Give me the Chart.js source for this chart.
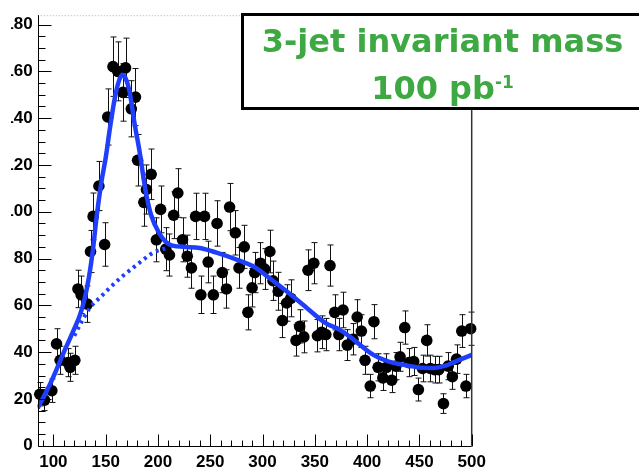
<!DOCTYPE html>
<html>
<head>
<meta charset="utf-8">
<script src="https://cdn.jsdelivr.net/npm/chart.js@4/dist/chart.umd.min.js"></script>
<style>
  html, body { margin: 0; padding: 0; background: #fff; overflow: hidden; }
  #massChart { position: absolute; left: 11px; top: 0; }
</style>
</head>
<body>
<canvas id="massChart" width="628" height="467"></canvas>
<script>
// 3-jet invariant mass, 100 pb-1
const massValues = [87, 91.5, 98.5, 103, 106.5, 114, 116, 120.5, 123.5, 126.5, 132.5, 135.5, 138, 143.5, 149,
  152, 157, 161.5, 166.5, 169, 174.5, 178.5, 180.5, 186.5, 189, 193.5, 198.5, 202.5, 207.5, 211,
  215, 219, 223.5, 228, 232, 236, 241, 244.5, 248, 253, 256.5, 261.5, 265.5, 268.5, 274,
  277.5, 282.5, 286, 290, 292.5, 298, 302, 307, 310, 315, 319, 323, 327, 332, 335.5,
  339.5, 343.5, 349, 352.5, 356.5, 360.5, 364.5, 369, 373, 377, 381, 386.5, 390.5, 394.5, 398,
  403, 406.5, 410.5, 415, 418.5, 423.5, 427.5, 431.5, 436, 440, 444.5, 449, 453, 457, 460.5,
  464.5, 468.5, 473, 477.5, 481.5, 485.5, 490.5, 494.5, 499];
const eventCounts = [22, 19.5, 23.5, 43.5, 36.5, 35.5, 33.5, 36.5, 67, 64.5, 60.5, 83, 98, 111, 86,
  140.5, 162, 160, 151, 161.5, 144, 149, 122, 104, 109.5, 116, 88, 101, 84, 81.5,
  98.5, 108, 88, 81, 76, 98, 64.5, 98, 78.5, 64.5, 95, 74, 67, 102, 91,
  76, 85, 57, 67.5, 74, 78, 75.5, 83, 70.5, 66, 53.5, 61, 63, 45, 51,
  46.5, 75, 78, 47, 48.5, 47.5, 77, 57, 47.5, 58, 43, 45.5, 55, 49, 36.5,
  25.5, 53, 33.5, 29, 33.5, 28, 34, 38, 50.5, 35.5, 36, 24, 33, 45, 33,
  32.5, 32.5, 18, 34, 29.5, 37, 49, 25.5, 50];
const countErrors = [5, 4.5, 5, 6.5, 6, 6, 6, 6, 8, 8, 7.8, 9, 10, 10.5, 9.3,
  12, 12.7, 12.6, 12.3, 12.7, 12, 12.2, 11, 10.2, 10.5, 10.8, 9.4, 10, 9.2, 9,
  10, 10.4, 9.4, 9, 8.7, 9.9, 8, 9.9, 8.9, 8, 9.7, 8.6, 8.2, 10.1, 9.5,
  8.7, 9.2, 7.5, 8.2, 8.6, 8.8, 8.7, 9.1, 8.4, 8.1, 7.3, 7.8, 7.9, 6.7, 7.1,
  6.8, 8.7, 8.8, 6.9, 7, 6.9, 8.8, 7.5, 6.9, 7.6, 6.6, 6.7, 7.4, 7, 6,
  5, 7.3, 5.8, 5.4, 5.8, 5.3, 5.8, 6.2, 7.1, 6, 6, 4.9, 5.7, 6.7, 5.7,
  5.7, 5.7, 4.2, 5.8, 5.4, 6.1, 7, 5, 7.1];

// fit: signal + background
const fitMass = [85, 97, 112, 120, 125.5, 130, 134, 138, 141.5, 146, 150, 154, 158.5, 162, 166, 170, 173,
  177.5, 182.5, 186, 189, 193.5, 201, 211, 224, 240, 256, 278.5, 291, 310, 323, 342, 360,
  374, 384, 406, 420, 438, 450, 463, 475, 482, 490, 500];
const fitTotal = [16, 26.5, 42, 50, 56, 63, 72, 84.5, 98.5, 113, 123, 135.5, 148, 155, 158.5, 156, 151,
  138, 125.5, 115, 107, 98.5, 91, 86, 85, 84.5, 82.5, 79, 76.7, 70.5, 66, 59, 52.5,
  49.5, 46.4, 38.8, 36, 34.3, 33.4, 33.2, 34.2, 35.5, 37, 38.8];
// background only
const bkgMass = [120, 127, 135, 145, 154, 165, 176, 186, 195, 208];
const bkgValues = [47, 53, 59, 63.5, 67.5, 72, 76, 79.5, 82.4, 84.5];

const xTicks = [100, 150, 200, 250, 300, 350, 400, 450, 500];
const yTicks = [0, 20, 40, 60, 80, 100, 120, 140, 160, 180];

const blau = '#1f3ffc';
const groen = '#3ea843';

function punten(xs, ys) {
  return xs.map((v, i) => ({x: v, y: ys[i]}));
}

// error bars below the markers
const foutBalken = {
  id: 'foutBalken',
  beforeDatasetsDraw(chart) {
    const {ctx, scales: {x, y}} = chart;
    ctx.save();
    ctx.strokeStyle = '#111';
    ctx.lineWidth = 1;
    massValues.forEach((m, i) => {
      const px = Math.round(x.getPixelForValue(m)) + 0.5;
      const lo = y.getPixelForValue(eventCounts[i] - countErrors[i]);
      const hi = y.getPixelForValue(eventCounts[i] + countErrors[i]);
      ctx.beginPath();
      ctx.moveTo(px, lo); ctx.lineTo(px, hi);
      ctx.moveTo(px - 3, lo); ctx.lineTo(px + 3, lo);
      ctx.moveTo(px - 3, hi); ctx.lineTo(px + 3, hi);
      ctx.stroke();
    });
    ctx.restore();
  }
};

// frame with inward ticks
const kader = {
  id: 'kader',
  afterDatasetsDraw(chart) {
    const {ctx, chartArea: a, scales: {x, y}} = chart;
    ctx.save();
    // top edge dotted
    ctx.strokeStyle = '#b0b0b0';
    ctx.setLineDash([1, 2]);
    ctx.beginPath();
    ctx.moveTo(a.left, a.top + 0.5); ctx.lineTo(a.right, a.top + 0.5);
    ctx.stroke();
    ctx.setLineDash([]);
    // right edge
    ctx.strokeStyle = '#333';
    ctx.lineWidth = 1.5;
    ctx.beginPath();
    ctx.moveTo(a.right, a.top); ctx.lineTo(a.right, a.bottom);
    ctx.stroke();
    // axes
    ctx.strokeStyle = '#000';
    ctx.lineWidth = 1;
    const x0 = Math.round(a.left) + 0.5, y0 = Math.round(a.bottom) + 0.5;
    ctx.beginPath();
    ctx.moveTo(x0, a.top); ctx.lineTo(x0, y0); ctx.lineTo(a.right, y0);
    ctx.stroke();
    ctx.beginPath();
    for (let v = 0; v <= y.max; v += 5) {
      const py = Math.round(y.getPixelForValue(v)) + 0.5;
      const len = v % 20 === 0 ? 13 : 7;
      ctx.moveTo(x0, py); ctx.lineTo(x0 + len, py);
    }
    for (let v = 90; v <= x.max; v += 10) {
      const px = Math.round(x.getPixelForValue(v)) + 0.5;
      const len = v % 50 === 0 ? 12 : 6;
      ctx.moveTo(px, y0); ctx.lineTo(px, y0 - len);
    }
    ctx.stroke();
    ctx.restore();
  }
};

// label box top right
const titelBlok = {
  id: 'titelBlok',
  afterDraw(chart) {
    const ctx = chart.ctx;
    const midden = 431.5;
    ctx.save();
    ctx.fillStyle = '#fff';
    ctx.fillRect(230, 13, 420, 97);
    ctx.strokeStyle = '#000';
    ctx.lineWidth = 3;
    ctx.strokeRect(231.5, 14.5, 420, 94);
    ctx.fillStyle = groen;
    ctx.textBaseline = 'alphabetic';
    ctx.textAlign = 'center';
    ctx.font = 'bold 32px "DejaVu Sans"';
    ctx.fillText('3-jet invariant mass', midden, 51.5);
    const deel1 = '100 pb', deel2 = '-1';
    const w1 = ctx.measureText(deel1).width;
    ctx.font = 'bold 17px "DejaVu Sans"';
    const w2 = ctx.measureText(deel2).width;
    const start = midden - (w1 + w2) / 2;
    ctx.textAlign = 'left';
    ctx.font = 'bold 32px "DejaVu Sans"';
    ctx.fillText(deel1, start, 98.5);
    ctx.font = 'bold 17px "DejaVu Sans"';
    ctx.fillText(deel2, start + w1, 87.5);
    ctx.restore();
  }
};

const asFont = {family: '"Liberation Sans", Arial, sans-serif', size: 17, weight: 'bold'};

new Chart(document.getElementById('massChart'), {
  type: 'line',
  data: {
    datasets: [{
      label: 'data',
      data: punten(massValues, eventCounts),
      showLine: false,
      pointRadius: 5.8,
      pointHoverRadius: 5.8,
      pointBackgroundColor: '#000',
      pointBorderWidth: 0,
      clip: false,
      order: 2
    }, {
      label: 'fit',
      data: punten(fitMass, fitTotal),
      borderColor: blau,
      borderWidth: 4.5,
      pointRadius: 0,
      cubicInterpolationMode: 'monotone',
      order: 1
    }, {
      label: 'background',
      data: punten(bkgMass, bkgValues),
      borderColor: blau,
      borderWidth: 4,
      borderDash: [3, 4],
      pointRadius: 0,
      cubicInterpolationMode: 'monotone',
      order: 1
    }]
  },
  options: {
    responsive: false,
    animation: false,
    events: [],
    layout: {padding: {left: 0, right: 167.3, top: 13, bottom: 0}},
    plugins: {legend: {display: false}, tooltip: {enabled: false}},
    scales: {
      x: {
        type: 'linear',
        min: 85,
        max: 500,
        grid: {display: false, drawTicks: false, tickLength: 0},
        border: {display: false},
        ticks: {font: asFont, color: '#000', padding: 6, maxRotation: 0, autoSkip: false},
        afterBuildTicks: s => { s.ticks = xTicks.map(v => ({value: v})); },
        afterFit: s => { s.height = 21.3; }
      },
      y: {
        type: 'linear',
        min: 0,
        max: 184,
        grid: {display: false, drawTicks: false, tickLength: 0},
        border: {display: false},
        ticks: {font: asFont, color: '#000', padding: 5},
        afterBuildTicks: s => { s.ticks = yTicks.map(v => ({value: v})); },
        afterFit: s => { s.width = 26.7; }
      }
    }
  },
  plugins: [foutBalken, kader, titelBlok]
});
</script>
</body>
</html>
